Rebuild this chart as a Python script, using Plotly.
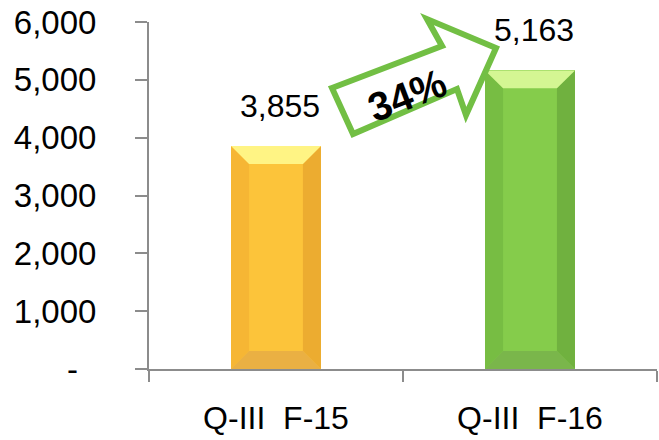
import plotly.graph_objects as go

# ---- data ----
categories = ["Q-III  F-15", "Q-III  F-16"]
values = [3855, 5163]
value_labels = ["3,855", "5,163"]
growth_label = "34%"
y_tickvals = [0, 1000, 2000, 3000, 4000, 5000, 6000]
y_ticktext = ["-\u00a0\u00a0", "1,000", "2,000", "3,000", "4,000", "5,000", "6,000"]

# ---- styles ----
center_colors = ["#FCC43A", "#85CC4B"]
left_colors = ["#F6B634", "#77BD43"]
right_colors = ["#ECAC30", "#70B13F"]
top_colors = ["#FFF484", "#D4F693"]
bottom_colors = ["#EAB043", "#7AB64B"]

W, H = 659, 440
ML, MR, MT, MB = 149, 2, 22, 71
BAR_W = 0.354
BEV_X = 0.071   # bevel width in category units
BEV_Y = 310     # bevel height in value units
FONT = "Liberation Sans"

xs = list(range(len(categories)))

fig = go.Figure()
fig.add_trace(go.Bar(x=xs, y=values, width=BAR_W, marker=dict(color=center_colors, line=dict(width=0)),
                     hoverinfo="skip", showlegend=False))

def poly(pts, color):
    fig.add_trace(go.Scatter(x=[p[0] for p in pts] + [pts[0][0]], y=[p[1] for p in pts] + [pts[0][1]],
                             mode="lines", fill="toself", fillcolor=color, line=dict(width=0),
                             hoverinfo="skip", showlegend=False))

for i, (c, v) in enumerate(zip(xs, values)):
    h = BAR_W / 2
    poly([(c - h, 0), (c - h, v), (c - h + BEV_X, v - BEV_Y), (c - h + BEV_X, BEV_Y)], left_colors[i])
    poly([(c + h, 0), (c + h, v), (c + h - BEV_X, v - BEV_Y), (c + h - BEV_X, BEV_Y)], right_colors[i])
    poly([(c - h, v), (c + h, v), (c + h - BEV_X, v - BEV_Y), (c - h + BEV_X, v - BEV_Y)], top_colors[i])
    poly([(c - h, 0), (c + h, 0), (c + h - BEV_X, BEV_Y), (c - h + BEV_X, BEV_Y)], bottom_colors[i])

for c, v, lab in zip(xs, values, value_labels):
    fig.add_annotation(x=c, y=v, text=lab, showarrow=False, yanchor="bottom", xshift=4, yshift=20,
                       font=dict(family=FONT, size=32, color="black"))

# ---- growth arrow (decoration, in paper coords from pixel positions) ----
pw, ph = W - ML - MR, H - MT - MB
def P(px, py):
    return ((px - ML) / pw, (H - MB - py) / ph)

arrow_px = [(332, 88), (442, 46), (427, 19), (496, 48), (466, 115), (457, 89), (353, 134)]
path = "M " + " L ".join(f"{P(*p)[0]:.4f},{P(*p)[1]:.4f}" for p in arrow_px) + " Z"
fig.add_shape(type="path", path=path, xref="paper", yref="paper", fillcolor="white",
              line=dict(color="#72BF44", width=6), layer="above")
tx, ty = P(407, 95)
fig.add_annotation(x=tx, y=ty, xref="paper", yref="paper", text=f"<b>{growth_label}</b>", showarrow=False,
                   xanchor="center", yanchor="middle",
                   textangle=-21, font=dict(family=FONT, size=40, color="black"))

axis_col = "#8C8C8C"
fig.update_layout(
    width=W, height=H, margin=dict(l=ML, r=MR, t=MT, b=MB, autoexpand=False),
    plot_bgcolor="white", paper_bgcolor="white", bargap=0,
    xaxis=dict(range=[-0.5, 1.5], tickvals=xs, ticktext=categories, showgrid=False, zeroline=False,
               showline=True, linecolor=axis_col, linewidth=2, ticks="", automargin=False,
               ticklabelstandoff=20,
               minor=dict(tick0=-0.5, dtick=1, ticks="outside", ticklen=11, tickcolor=axis_col, tickwidth=2, showgrid=False),
               tickfont=dict(family=FONT, size=32, color="black")),
    yaxis=dict(range=[0, 6000], tickvals=y_tickvals, ticktext=y_ticktext, showgrid=False, zeroline=False,
               showline=True, linecolor=axis_col, linewidth=2, ticks="outside", ticklen=12, automargin=False,
               tickcolor=axis_col, tickwidth=2, ticklabelstandoff=32,
               tickfont=dict(family=FONT, size=33, color="black")),
)
fig.write_html("out.html", config={"displayModeBar": False, "staticPlot": True},
               post_script="document.body.style.margin='0';document.body.style.overflow='hidden';")
